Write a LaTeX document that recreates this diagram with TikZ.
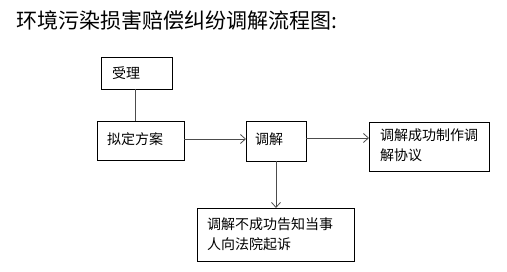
\documentclass[tikz,border=0pt]{standalone}
\usepackage{fontspec}
\newfontfamily\cjk{Noto Sans CJK SC}
\usetikzlibrary{arrows.meta}
\begin{document}
\begin{tikzpicture}[x=1pt,y=-1pt,
  box/.style={draw,line width=0.9pt,anchor=north west,inner sep=0pt,outer sep=0pt},
  lbl/.style={anchor=west,inner sep=0pt,font=\cjk\fontsize{14}{19.5}\selectfont,align=left},
  conn/.style={line width=0.9pt,draw=black!70},
  arr/.style={conn,-{Straight Barb[length=5pt,width=9pt,line width=0.8pt]}}]
\useasboundingbox (0,0) rectangle (507,272);
\node[anchor=west,inner sep=0pt,font=\cjk\fontsize{21}{22}\selectfont] (title) at (16,21) {环境污染损害赔偿纠纷调解流程图:};
% boxes
\node[box,minimum width=71pt,minimum height=32pt] (b1) at (101,57) {};
\node[lbl] (t1) at (112,73) {受理};
\node[box,minimum width=87pt,minimum height=39pt] (b2) at (97,121) {};
\node[lbl] (t2) at (107,139) {拟定方案};
\node[box,minimum width=60pt,minimum height=40pt] (b3) at (246,121) {};
\node[lbl] (t3) at (255,139) {调解};
\node[box,minimum width=120pt,minimum height=49pt] (b4) at (369,122) {};
\node[lbl,anchor=north west] (t4) at (380,129) {调解成功制作调\\解协议};
\node[box,minimum width=157pt,minimum height=53pt] (b5) at (197,208) {};
\node[lbl,anchor=north west] (t5) at (207,218) {调解不成功告知当事\\人向法院起诉};
% connectors
\draw[conn] (b1.south west -| 135,0) -- (b2.north west -| 135,0);
\draw[arr] (b2.east |- 0,139) -- (b3.west |- 0,139);
\draw[arr] (b3.east |- 0,138) -- (b4.west |- 0,138);
\draw[arr] (b3.south west -| 276,0) -- (b5.north west -| 276,0);
\end{tikzpicture}
\end{document}
